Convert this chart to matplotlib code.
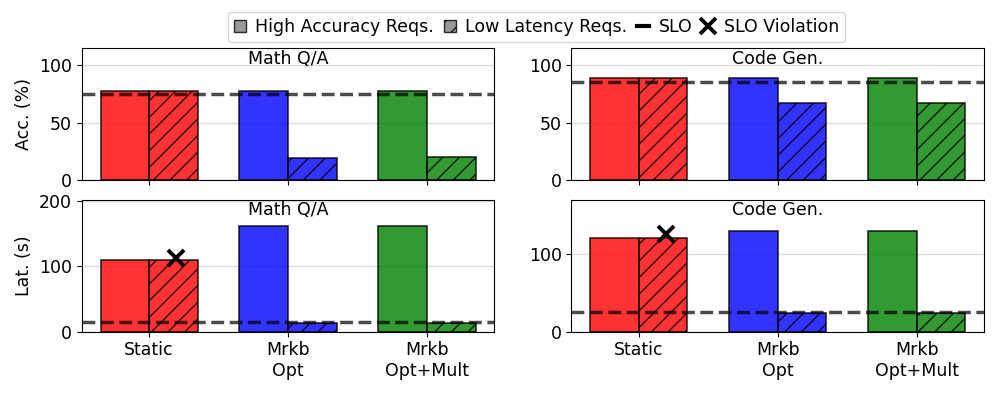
import numpy as np
import matplotlib
matplotlib.use("Agg")
import matplotlib.pyplot as plt
from matplotlib.patches import Patch
from matplotlib.lines import Line2D

plt.rcParams.update({"font.size": 12.5, "hatch.linewidth": 1.0})

systems = ["Static", "Mrkb\nOpt", "Mrkb\nOpt+Mult"]
colors = ["red", "blue", "green"]

# accuracy (%)
math_acc_high = [78, 78, 78]
math_acc_low = [78, 19, 20]
code_acc_high = [89, 89, 89]
code_acc_low = [89, 67, 67]
math_acc_slo = 75
code_acc_slo = 85

# latency (s)
math_lat_high = [110, 162, 162]
math_lat_low = [110, 13.5, 13.5]
code_lat_high = [121, 130, 130]
code_lat_low = [121, 24, 24]
math_lat_slo = 15
code_lat_slo = 25

# SLO violations (index of system on the low-latency bar)
math_lat_viol = [0]
code_lat_viol = [0]

fig, axes = plt.subplots(2, 2, figsize=(9.97, 3.94), dpi=100)
fig.subplots_adjust(left=0.082, right=0.987, top=0.878, bottom=0.158,
                    wspace=0.187, hspace=0.15)

x = np.arange(len(systems))
w = 0.35


def panel(ax, high, low, slo, title, ylim, yticks, viol=(), voff=0):
    for i in range(len(systems)):
        ax.bar(x[i] - w / 2, high[i], w, color=colors[i], alpha=0.8,
               edgecolor="black", lw=1.2, zorder=2)
        ax.bar(x[i] + w / 2, low[i], w, color=colors[i], alpha=0.8,
               edgecolor="black", lw=1.2, hatch="//", zorder=2)
    ax.axhline(slo, color="black", alpha=0.7, ls="--", lw=2.5, zorder=3)
    for i in viol:
        ax.plot(x[i] + w / 2 + 0.02, low[i] + voff, marker="x", color="black",
                ms=11, mew=2.8, zorder=4)
    ax.text(0.5, 0.92, title, transform=ax.transAxes, ha="center", va="center")
    ax.set_ylim(*ylim)
    ax.set_yticks(yticks)
    ax.set_xticks(x)
    ax.set_xticklabels(systems)
    ax.grid(axis="y", color="#dddddd", lw=1, zorder=0)
    ax.set_axisbelow(True)


panel(axes[0, 0], math_acc_high, math_acc_low, math_acc_slo, "Math Q/A",
      (0, 115), [0, 50, 100])
panel(axes[0, 1], code_acc_high, code_acc_low, code_acc_slo, "Code Gen.",
      (0, 115), [0, 50, 100])
panel(axes[1, 0], math_lat_high, math_lat_low, math_lat_slo, "Math Q/A",
      (0, 202), [0, 100, 200], math_lat_viol, 3)
panel(axes[1, 1], code_lat_high, code_lat_low, code_lat_slo, "Code Gen.",
      (0, 169.5), [0, 100], code_lat_viol, 4)

for ax in axes[0]:
    ax.tick_params(axis="x", labelbottom=False)
axes[0, 0].set_ylabel("Acc. (%)")
axes[1, 0].set_ylabel("Lat. (s)")

handles = [
    Patch(facecolor="gray", alpha=0.8, edgecolor="black", label="High Accuracy Reqs."),
    Patch(facecolor="gray", alpha=0.8, edgecolor="black", hatch="//",
          label="Low Latency Reqs."),
    Line2D([], [], color="black", lw=3, label="SLO"),
    Line2D([], [], color="black", ls="", marker="x", ms=11, mew=2.8,
           label="SLO Violation"),
]
fig.legend(handles=handles, loc="upper center", bbox_to_anchor=(0.538, 0.975),
           ncol=4, handlelength=0.7, handleheight=0.7, handletextpad=0.55,
           columnspacing=0.55, borderpad=0.35, borderaxespad=0.1)

fig.savefig("out.png")
